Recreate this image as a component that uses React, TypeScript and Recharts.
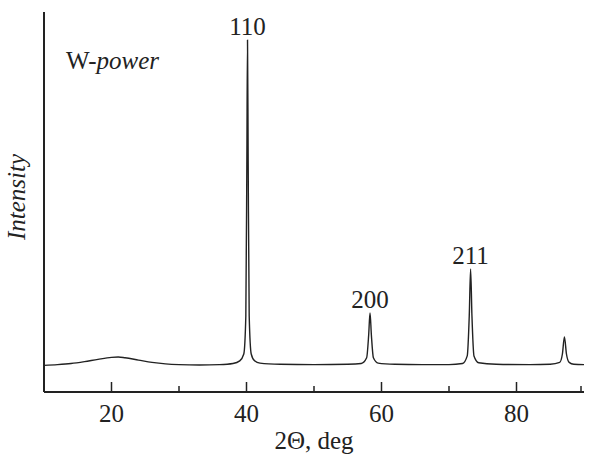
import React from 'react';
import { LineChart, Line, XAxis, YAxis, ReferenceDot } from 'recharts';

const twoTheta = [
  10, 12, 14, 16, 18, 20, 21, 22, 24, 26, 28, 30, 33, 36, 38, 39, 39.6, 39.9, 40.05, 40.15, 40.25, 40.4, 40.7, 41.2, 42,
  45, 50, 55, 57, 57.8, 58.1, 58.3, 58.5, 58.8, 59.5, 62, 66, 70, 72, 72.7, 73.0, 73.2, 73.4, 73.7, 74.4, 77, 82, 85,
  86.4, 86.8, 87.1, 87.4, 87.8, 88.5, 90,
];
const intensity = [
  7.0, 7.2, 7.5, 8.0, 8.6, 9.1, 9.2, 9.0, 8.4, 7.8, 7.4, 7.2, 7.1, 7.2, 7.5, 8.2, 10, 20, 60, 92.6, 60, 20, 10, 8.2, 7.6,
  7.3, 7.2, 7.3, 7.5, 9, 15, 20.8, 15, 9, 7.6, 7.3, 7.2, 7.2, 7.5, 9.5, 20, 32.4, 20, 9.5, 7.7, 7.3, 7.2, 7.3,
  7.8, 10, 14.5, 10, 7.8, 7.3, 7.2,
];
const peakLabels = ['110', '200', '211'];
const peakPos = [40.15, 58.3, 73.2];
const peakHeight = [92.6, 20.8, 32.4];
const xTicks = [10, 20, 30, 40, 50, 60, 70, 80, 90];
const labeledTicks = [20, 40, 60, 80];

const data = twoTheta.map((t, i) => ({ t, v: intensity[i] }));

const FONT = '"Liberation Serif", "Times New Roman", serif';
const INK = '#222';

function Tick(props: any) {
  const { x, y, payload } = props;
  const major = labeledTicks.includes(payload.value);
  return (
    <g>
      <line x1={x} x2={x} y1={y} y2={y - (major ? 10 : 6)} stroke={INK} strokeWidth={1.5} />
      {major && (
        <text x={x} y={y + 30} textAnchor="middle" fontFamily={FONT} fontSize={25} fill={INK}>
          {payload.value}
        </text>
      )}
    </g>
  );
}

export default function App() {
  return (
    <div style={{ position: 'absolute', left: 0, top: 0, width: 589, height: 454, background: '#fff' }}>
      <LineChart width={589} height={454} data={data} margin={{ top: 12, right: 5, bottom: 0, left: 0 }}>
        <XAxis
          type="number"
          dataKey="t"
          domain={[10, 90]}
          ticks={xTicks}
          tick={<Tick />}
          tickLine={false}
          tickSize={0}
          tickMargin={0}
          height={62}
          axisLine={{ stroke: INK, strokeWidth: 2 }}
          label={{
            content: (p: any) => (
              <text x={p.viewBox.x + p.viewBox.width / 2} y={p.viewBox.y + 57} textAnchor="middle" fontFamily={FONT} fontSize={25} fill={INK}>
                2Θ, deg
              </text>
            ),
          }}
        />
        <YAxis
          type="number"
          domain={[0, 100]}
          width={44}
          tick={false}
          tickLine={false}
          axisLine={{ stroke: INK, strokeWidth: 2 }}
          label={{
            content: () => (
              <text x={25} y={197} transform="rotate(-90, 25, 197)" textAnchor="middle" fontFamily={FONT} fontStyle="italic" fontSize={25} fill={INK}>
                Intensity
              </text>
            ),
          }}
        />
        <Line type="monotone" dataKey="v" stroke={INK} strokeWidth={1.4} dot={false} isAnimationActive={false} />
        {peakLabels.map((lab, i) => (
          <ReferenceDot
            key={lab}
            x={peakPos[i]}
            y={peakHeight[i]}
            r={0}
            stroke="none"
            fill="none"
            label={{ value: lab, position: 'top', offset: 5, fontFamily: FONT, fontSize: 25, fill: INK }}
          />
        ))}
      </LineChart>
      <div style={{ position: 'absolute', left: 66, top: 46, fontFamily: FONT, fontSize: 25, color: INK, lineHeight: '30px' }}>
        W-<i>power</i>
      </div>
    </div>
  );
}
